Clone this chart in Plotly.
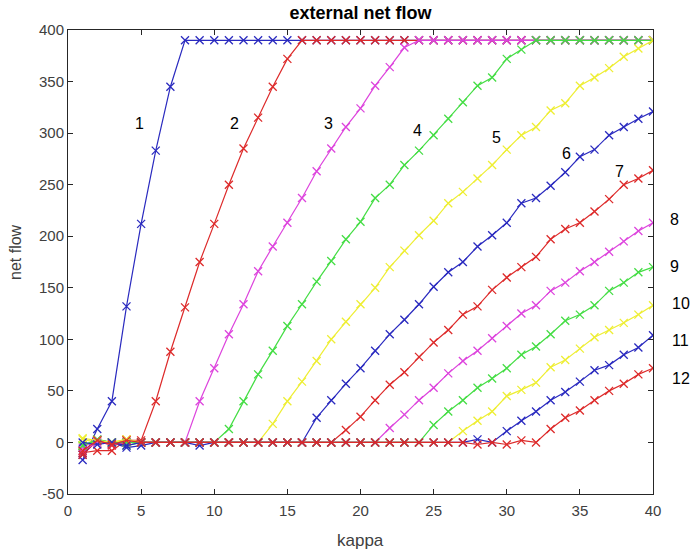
import plotly.graph_objects as go

kappa = list(range(1, 41))
SAT = 390

s1 = [-17, 13, 40, 132, 212, 283, 345] + [SAT] * 33
s2 = [-10, -8, -8, 2, 2, 40, 88, 131, 175, 212, 250, 285, 315, 345, 372] + [SAT] * 25
s3 = [-5, 3, -2, 3, 0, 0, 0, 0, 40, 72, 105, 134, 166, 190, 213, 237, 263, 285, 306,
      324, 346, 364, 383] + [SAT] * 17
s4 = [-3, 2, 0, -3, 0, 0, 0, 0, 0, 0, 13, 40, 66, 89, 113, 134, 156, 176, 197, 214,
      237, 250, 269, 283, 298, 314, 330, 346, 354, 372, 381] + [SAT] * 9
s5 = [3, 0, 0, 3, 0, 0, 0, 0, 0, 0, 0, 0, 0, 18, 40, 59, 79, 100, 117, 134, 150, 170,
      186, 201, 215, 232, 243, 256, 269, 284, 298, 306, 322, 329, 346, 354, 363, 374, 382, 390]
s6 = [-12, 2, 0, -5, -3, 0, 0, 0, -3, 0, 0, 0, 0, 0, 0, 0, 24, 41, 57, 72, 89, 105,
      119, 134, 151, 165, 175, 190, 201, 213, 232, 237, 249, 262, 277, 284, 298, 306, 314, 321]
s7 = [-12, 2, -3, 0, 0, 0, 0, 0, 0, 0, 0, 0, 0, 0, 0, 0, 0, 0, 12, 25, 41, 56, 68, 83,
      97, 109, 124, 132, 148, 160, 170, 180, 197, 207, 213, 224, 236, 250, 256, 264]
s8 = [-8, 0, -2, 0, 0, 0, 0, 0, 0, 0, 0, 0, 0, 0, 0, 0, 0, 0, 0, 0, 0, 14, 27, 41, 53,
      67, 79, 89, 101, 113, 125, 133, 147, 155, 166, 175, 185, 195, 205, 213]
s9 = [-3, 3, 0, 0, 0, 0, 0, 0, 0, 0, 0, 0, 0, 0, 0, 0, 0, 0, 0, 0, 0, 0, 0, 0, 17, 30,
      41, 53, 62, 72, 85, 93, 105, 118, 124, 133, 147, 155, 165, 170]
s10 = [4, 2, 0, 3, 0, 0, 0, 0, 0, 0, 0, 0, 0, 0, 0, 0, 0, 0, 0, 0, 0, 0, 0, 0, 0, 0,
       11, 21, 30, 45, 51, 58, 73, 80, 91, 102, 109, 116, 124, 133]
s11 = [0, -2, 0, -3, 0, 0, 0, 0, 0, 0, 0, 0, 0, 0, 0, 0, 0, 0, 0, 0, 0, 0, 0, 0, 0, 0,
       0, 3, 0, 11, 21, 30, 41, 49, 59, 70, 75, 85, 92, 104]
s12 = [-8, 2, -2, 2, 0, 0, 0, 0, 0, 0, 0, 0, 0, 0, 0, 0, 0, 0, 0, 0, 0, 0, 0, 0, 0, 0,
       0, -2, 0, -2, 2, 0, 13, 24, 31, 41, 50, 57, 66, 72]

series = [s1, s2, s3, s4, s5, s6, s7, s8, s9, s10, s11, s12]
colors = (["#2a2abf", "#dd2a2a", "#dd44dd", "#44dd44", "#eeee33"] * 3)[:12]
labels = [str(i) for i in range(1, 13)]
label_x = [4.9, 11.4, 17.8, 23.9, 29.3, 34.1, 37.7, 41.5, 41.5, 41.9, 41.9, 41.9]
label_y = [309, 309, 309, 303, 296, 280, 263, 216, 171, 135, 99, 62]

y_ticks = [-50, 0, 50, 100, 150, 200, 250, 300, 350, 400]
y_ticktext = ["-50", "0", "50", "100", "150", "200", "250", "300", "350", "400"]
x_ticks = [0, 5, 10, 15, 20, 25, 30, 35, 40]

FONT = "Liberation Sans, Arial"

fig = go.Figure()
for s, c in zip(series, colors):
    fig.add_trace(go.Scatter(
        x=kappa, y=s, mode="lines+markers",
        line=dict(color=c, width=1.2),
        marker=dict(symbol="x-thin", size=8, line=dict(color=c, width=1.3)),
        showlegend=False,
    ))

X0, X1 = 0, 40
for t, x, y in zip(labels, label_x, label_y):
    fig.add_annotation(x=(x - X0) / (X1 - X0), xref="paper", xanchor="center",
                       y=y, yref="y", yanchor="middle",
                       text=t, showarrow=False,
                       font=dict(family=FONT, size=16, color="black"))

# axis titles
fig.add_annotation(text="kappa", xref="paper", yref="paper", x=0.5, xanchor="center",
                   y=-(540 - 494) / (494 - 30), yanchor="middle", showarrow=False,
                   font=dict(family=FONT, size=17, color="#404040"))
fig.add_annotation(text="net flow", xref="paper", yref="paper", x=-(68 - 15) / (653 - 68),
                   xanchor="center", y=(494 - 252) / (494 - 30), yanchor="middle",
                   textangle=-90, showarrow=False,
                   font=dict(family=FONT, size=16, color="#404040"))

axis_common = dict(
    showgrid=False, zeroline=False, showline=True, linecolor="#262626", linewidth=1,
    mirror="ticks", ticks="inside", ticklen=5, tickcolor="#262626",
    tickfont=dict(family=FONT, size=15, color="#404040"),
)
fig.update_xaxes(range=[X0, X1], tickvals=x_ticks, ticklabelstandoff=3, **axis_common)
fig.update_yaxes(range=[-50, 400], tickvals=y_ticks, ticktext=y_ticktext, **axis_common)

fig.update_layout(
    width=692, height=553,
    margin=dict(l=68, r=39, t=30, b=59),
    paper_bgcolor="white", plot_bgcolor="white",
    title=dict(text="<b>external net flow</b>", x=(68 + 653) / 2 / 692, xanchor="center",
               y=1 - 13 / 553, yanchor="middle",
               font=dict(family=FONT, size=18, color="black")),
)

fig.write_html("out.html")
